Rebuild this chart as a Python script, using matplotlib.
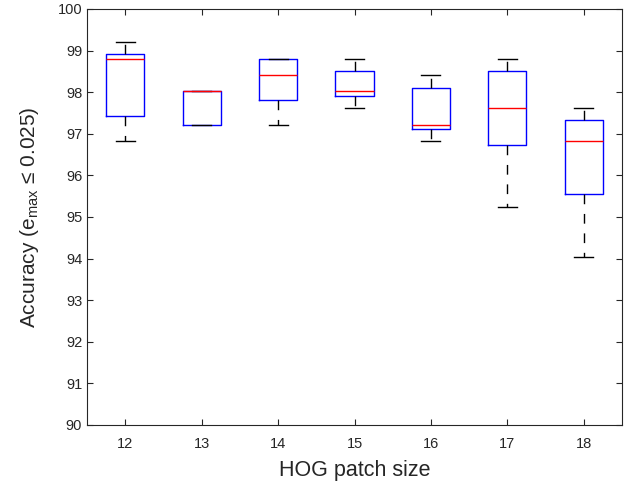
import matplotlib
matplotlib.use("Agg")
import matplotlib.pyplot as plt

plt.rcParams['font.family'] = ['Liberation Sans', 'DejaVu Sans']
plt.rcParams['mathtext.fontset'] = 'custom'
plt.rcParams['mathtext.rm'] = 'Liberation Sans'

# HOG patch sizes and box statistics
patch_sizes = [12, 13, 14, 15, 16, 17, 18]
whis_low = [96.82, 97.22, 97.22, 97.62, 96.82, 95.24, 94.05]
q1 = [97.42, 97.22, 97.82, 97.91, 97.12, 96.73, 95.55]
medians = [98.81, 98.02, 98.41, 98.02, 97.22, 97.62, 96.82]
q3 = [98.91, 98.02, 98.81, 98.51, 98.11, 98.51, 97.32]
whis_high = [99.21, 98.02, 98.81, 98.81, 98.41, 98.81, 97.62]
y_ticks = list(range(90, 101))

stats = []
for i, p in enumerate(patch_sizes):
    stats.append(dict(label=str(p), whislo=whis_low[i], q1=q1[i], med=medians[i],
                      q3=q3[i], whishi=whis_high[i], fliers=[]))

fig = plt.figure(figsize=(6.34, 4.87), dpi=100)
ax = fig.add_axes([87 / 634, 1 - 425 / 487, 535 / 634, 416 / 487])

ax.bxp(stats, positions=patch_sizes, widths=0.5, showfliers=False,
       boxprops=dict(color='blue', linewidth=1.0),
       medianprops=dict(color='red', linewidth=1.0),
       whiskerprops=dict(color='black', linewidth=1.0, linestyle=(0, (7, 7))),
       capprops=dict(color='black', linewidth=1.0), capwidths=0.25)

ax.set_xlim(11.5, 18.5)
ax.set_ylim(90, 100)
ax.set_yticks(y_ticks)
ax.set_xticks(patch_sizes)
ax.set_xticklabels([str(p) for p in patch_sizes])

for s in ax.spines.values():
    s.set_color('#262626')
    s.set_linewidth(0.8)
ax.tick_params(direction='in', top=True, right=True, length=4, width=0.8,
               colors='#262626', labelsize=10.5, labelcolor='#262626')
ax.tick_params(axis='x', pad=9)

ax.set_xlabel('HOG patch size', fontsize=15.5, color='#262626', labelpad=6)
ax.set_ylabel(r'Accuracy (e$_\mathregular{max}$ ≤ 0.025)', fontsize=15,
              color='#262626', labelpad=12)

fig.savefig('out.png', dpi=100)
